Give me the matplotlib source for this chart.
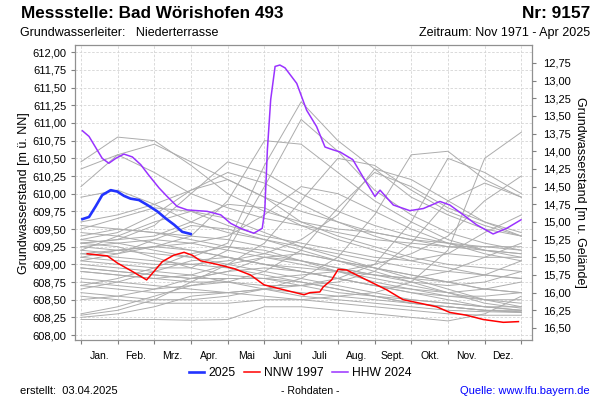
import matplotlib
matplotlib.use("Agg")
import matplotlib.pyplot as plt
from matplotlib.lines import Line2D
import numpy as np

plt.rcParams['font.family'] = ['Liberation Sans', 'DejaVu Sans']

# ---------------- data ----------------
months = ["Jan.", "Feb.", "Mrz.", "Apr.", "Mai", "Juni", "Juli", "Aug.", "Sept.", "Okt.", "Nov.", "Dez."]
ground_level = 624.60  # m ü. NN (for right axis: depth below ground)

# month positions (0 = 1 Jan, 12 = 31 Dec)
grid_m = list(range(13))

# historical years (gray), monthly values
gray_years = [
    [609.25, 609.20, 609.15, 609.10, 609.30, 610.40, 611.30, 610.75, 610.35, 609.95, 609.70, 609.50, 609.40],
    [609.05, 609.00, 608.95, 608.95, 609.20, 610.10, 611.05, 610.60, 610.05, 609.70, 609.45, 609.30, 609.20],
    [609.20, 609.15, 609.25, 609.40, 609.90, 610.75, 610.70, 610.30, 609.90, 609.60, 609.35, 609.20, 609.10],
    [610.45, 610.80, 610.75, 610.40, 610.00, 609.75, 609.60, 609.50, 609.45, 609.35, 609.25, 609.20, 609.15],
    [610.10, 610.55, 610.70, 610.45, 610.20, 609.95, 609.75, 609.60, 609.45, 609.35, 609.30, 609.25, 609.25],
    [610.35, 610.55, 610.30, 610.00, 609.80, 609.65, 609.55, 609.45, 609.35, 609.30, 609.25, 609.25, 609.20],
    [609.30, 609.35, 609.55, 610.00, 610.45, 610.30, 610.00, 609.75, 609.55, 609.40, 609.30, 609.20, 609.15],
    [608.90, 608.85, 608.80, 608.85, 609.00, 609.30, 609.90, 610.50, 610.40, 610.05, 609.75, 609.55, 609.40],
    [608.75, 608.70, 608.65, 608.70, 608.75, 608.90, 609.20, 609.80, 610.30, 610.10, 609.80, 609.60, 609.45],
    [608.60, 608.55, 608.50, 608.50, 608.55, 608.65, 608.80, 609.10, 609.70, 610.55, 610.60, 610.20, 609.95],
    [608.70, 608.65, 608.60, 608.60, 608.60, 608.65, 608.70, 608.80, 609.00, 609.60, 610.50, 610.30, 610.00],
    [608.55, 608.50, 608.45, 608.45, 608.45, 608.50, 608.50, 608.55, 608.60, 608.75, 609.20, 610.50, 610.87],
    [608.90, 608.85, 608.80, 608.75, 608.75, 608.70, 608.70, 608.75, 608.90, 609.30, 609.90, 610.15, 609.95],
    [609.10, 609.05, 609.00, 609.00, 609.05, 609.15, 609.35, 609.70, 610.35, 610.20, 609.90, 609.60, 609.40],
    [609.95, 610.05, 609.85, 609.60, 609.45, 609.35, 609.25, 609.15, 609.05, 608.95, 608.90, 608.85, 608.80],
    [609.55, 609.50, 609.45, 609.40, 609.35, 609.25, 609.15, 609.05, 608.95, 608.85, 608.75, 608.65, 608.60],
    [609.45, 609.40, 609.30, 609.20, 609.10, 609.00, 608.90, 608.80, 608.70, 608.60, 608.50, 608.40, 608.35],
    [609.35, 609.30, 609.20, 609.10, 609.00, 608.90, 608.80, 608.70, 608.60, 608.50, 608.45, 608.40, 608.35],
    [609.25, 609.30, 609.35, 609.30, 609.20, 609.10, 609.00, 608.90, 608.80, 608.70, 608.60, 608.50, 608.45],
    [609.15, 609.10, 609.05, 609.00, 608.95, 608.85, 608.75, 608.65, 608.55, 608.45, 608.40, 608.35, 608.32],
    [609.20, 609.40, 609.60, 609.75, 609.65, 609.45, 609.25, 609.10, 608.95, 608.80, 608.65, 608.50, 608.40],
    [609.05, 609.15, 609.35, 609.55, 609.50, 609.35, 609.20, 609.05, 608.90, 608.75, 608.60, 608.45, 608.38],
    [609.40, 609.50, 609.45, 609.35, 609.25, 609.15, 609.05, 608.95, 608.85, 608.80, 608.75, 608.85, 609.05],
    [609.30, 609.25, 609.10, 608.95, 608.85, 608.80, 608.70, 608.60, 608.55, 608.50, 608.45, 608.40, 608.40],
    [608.95, 608.90, 608.85, 608.80, 608.90, 609.10, 609.15, 609.05, 608.95, 608.85, 608.75, 608.65, 608.60],
    [608.70, 608.80, 608.95, 609.15, 609.25, 609.20, 609.05, 608.90, 608.75, 608.65, 608.55, 608.50, 608.50],
    [608.50, 608.55, 608.65, 608.80, 608.90, 608.95, 608.90, 608.80, 608.70, 608.60, 608.55, 608.55, 608.60],
    [608.30, 608.40, 608.55, 608.70, 608.80, 608.80, 608.75, 608.65, 608.55, 608.45, 608.40, 608.35, 608.35],
    [608.25, 608.30, 608.40, 608.55, 608.60, 608.65, 608.60, 608.55, 608.50, 608.45, 608.40, 608.35, 608.33],
    [608.22, 608.22, 608.22, 608.21, 608.22, 608.40, 608.40, 608.35, 608.30, 608.25, 608.20, 608.30, 608.55],
    [608.28, 608.35, 608.50, 608.75, 609.00, 609.10, 609.05, 608.95, 608.85, 608.75, 608.70, 608.75, 608.90],
    [608.65, 608.75, 608.90, 609.05, 609.10, 609.00, 608.90, 608.80, 608.70, 608.65, 608.60, 608.65, 608.75],
    [608.80, 608.75, 608.70, 608.65, 608.60, 608.55, 608.50, 608.45, 608.40, 608.35, 608.30, 608.28, 608.28],
    [609.00, 608.95, 608.90, 608.85, 608.75, 608.65, 608.55, 608.50, 608.45, 608.40, 608.35, 608.33, 608.32],
    [609.10, 609.20, 609.25, 609.20, 609.10, 609.00, 608.95, 608.90, 608.85, 608.80, 608.90, 609.10, 609.30],
    [609.30, 609.35, 609.40, 609.60, 609.85, 609.80, 609.55, 609.35, 609.20, 609.05, 608.95, 608.85, 608.80],
    [609.50, 609.65, 609.80, 609.75, 609.55, 609.40, 609.30, 609.20, 609.10, 609.05, 609.15, 609.45, 609.70],
    [609.60, 609.70, 609.85, 610.05, 610.20, 609.95, 609.60, 609.40, 609.25, 609.10, 609.00, 608.95, 608.90],
    [609.35, 609.45, 609.70, 610.05, 610.30, 610.15, 609.85, 609.60, 609.40, 609.25, 609.15, 609.10, 609.10],
    [609.15, 609.20, 609.25, 609.30, 609.40, 609.70, 610.10, 610.00, 609.75, 609.50, 609.30, 609.15, 609.05],
    [608.95, 608.90, 608.85, 608.80, 608.80, 608.80, 608.85, 608.90, 609.00, 609.15, 609.40, 609.90, 610.25],
]

# 2025 (blue)
y2025_m = [0.04, 0.22, 0.40, 0.58, 0.81, 0.99, 1.17, 1.35, 1.58, 1.81, 2.08, 2.31, 2.54, 2.76, 2.99]
y2025_v = [609.64, 609.67, 609.82, 609.98, 610.05, 610.03, 609.97, 609.93, 609.91, 609.84, 609.75, 609.65, 609.56, 609.46, 609.43]

# NNW 1997 (red)
nnw_m = [0.17, 0.72, 0.99, 1.40, 1.79, 1.99, 2.22, 2.53, 2.81, 3.03, 3.26, 3.71, 4.17, 4.62, 4.99, 5.53,
         6.08, 6.24, 6.51, 6.60, 6.83, 7.01, 7.24, 7.78, 8.33, 8.78, 9.24, 9.69, 10.05, 10.51, 10.96, 11.51, 11.92]
nnw_v = [609.15, 609.12, 609.02, 608.90, 608.78, 608.90, 609.04, 609.13, 609.17, 609.13, 609.05, 609.00, 608.94, 608.85, 608.71, 608.64,
         608.57, 608.60, 608.61, 608.68, 608.78, 608.93, 608.92, 608.78, 608.64, 608.50, 608.45, 608.40, 608.32, 608.28, 608.22, 608.18, 608.19]

# HHW 2024 (purple)
hhw_m = [0.04, 0.22, 0.44, 0.58, 0.76, 0.95, 1.17, 1.40, 1.63, 1.85, 2.13, 2.35, 2.62, 2.90, 3.44, 3.81, 4.08, 4.35, 4.71, 4.94,
         5.01, 5.08, 5.17, 5.29, 5.42, 5.56, 5.88, 6.15, 6.42, 6.65, 6.87, 7.06, 7.41, 7.68, 8.01, 8.15, 8.51, 8.96, 9.33,
         9.78, 10.05, 10.42, 10.78, 11.23, 11.60, 11.99]
hhw_v = [610.89, 610.81, 610.62, 610.50, 610.43, 610.50, 610.56, 610.52, 610.41, 610.26, 610.08, 609.96, 609.82, 609.77, 609.75, 609.70, 609.58, 609.51, 609.44, 609.51,
         609.77, 610.62, 611.33, 611.80, 611.82, 611.78, 611.56, 611.18, 610.95, 610.66, 610.62, 610.59, 610.48, 610.24, 609.96, 610.05, 609.84, 609.76, 609.79,
         609.89, 609.84, 609.70, 609.56, 609.43, 609.51, 609.63]

# ---------------- figure ----------------
W, H = 600, 400
fig = plt.figure(figsize=(6, 4), dpi=100)
ax = fig.add_axes([74.7 / W, 1 - 340 / H, (532 - 74.7) / W, (340 - 45.3) / H])

ylo, yhi = 607.93, 612.099
ax.set_xlim(-0.17, 12.29)
ax.set_ylim(ylo, yhi)

for g in gray_years:
    ax.plot(grid_m, g, color='#acacac', lw=0.7, zorder=2)
ax.plot(nnw_m, nnw_v, color='#ff0000', lw=1.1, zorder=4)
ax.plot(hhw_m, hhw_v, color='#9a32ff', lw=1.1, zorder=4)
ax.plot(y2025_m, y2025_v, color='#2233ff', lw=1.9, zorder=5)

# grid / ticks
yt = np.arange(608.0, 612.01, 0.25)
ax.set_yticks(yt)
ax.set_yticklabels([f"{v:.2f}".replace('.', ',') for v in yt], fontsize=8)
ax.set_xticks(range(13))
ax.set_xticklabels([])
ax.set_xticks([i + 0.5 for i in range(12)], minor=True)
ax.set_xticklabels(months, minor=True, fontsize=7.5)
ax.tick_params(axis='x', which='minor', length=0, pad=8)
ax.tick_params(axis='x', which='major', length=3, color='#808080')
ax.tick_params(axis='y', length=3, color='#808080', pad=3)
ax.grid(True, which='major', color='#d4d4d4', lw=0.6, ls=(0, (3, 2)))
ax.set_axisbelow(True)
for s in ax.spines.values():
    s.set_color('#909090')
    s.set_linewidth(0.9)
ax.set_ylabel("Grundwasserstand [m ü. NN]", fontsize=9, labelpad=2)

ax2 = ax.twinx()
ax2.set_ylim(ground_level - ylo, ground_level - yhi)
rt = np.arange(12.75, 16.51, 0.25)
ax2.set_yticks(rt)
ax2.set_yticklabels([f"{v:.2f}".replace('.', ',') for v in rt], fontsize=8)
ax2.tick_params(axis='y', length=3, color='#808080', pad=5)
for s in ax2.spines.values():
    s.set_visible(False)
ax2.set_ylabel("Grundwasserstand [m u. Gelände]", fontsize=9, rotation=-90, labelpad=11)

# texts
fig.text(21 / W, 1 - 14 / H, "Messstelle: Bad Wörishofen 493", fontsize=12.3, fontweight='bold', ha='left', va='center')
fig.text(590 / W, 1 - 14 / H, "Nr: 9157", fontsize=12.4, fontweight='bold', ha='right', va='center')
fig.text(20 / W, 1 - 33 / H, "Grundwasserleiter:   Niederterrasse", fontsize=9, ha='left', va='center')
fig.text(590 / W, 1 - 33 / H, "Zeitraum: Nov 1971 - Apr 2025", fontsize=9, ha='right', va='center')
fig.text(20 / W, 1 - 391 / H, "erstellt:  03.04.2025", fontsize=8, ha='left', va='center')
fig.text(310 / W, 1 - 391 / H, "- Rohdaten -", fontsize=7.6, ha='center', va='center')
fig.text(590 / W, 1 - 391 / H, "Quelle: www.lfu.bayern.de", fontsize=8, ha='right', va='center', color='#0000ff')

handles = [Line2D([], [], color='#2233ff', lw=1.9),
           Line2D([], [], color='#ff0000', lw=1.1),
           Line2D([], [], color='#9a32ff', lw=1.1)]
fig.legend(handles, ["2025", "NNW 1997", "HHW 2024"], loc='center', bbox_to_anchor=(300 / W, 1 - 373 / H),
           ncol=3, frameon=False, fontsize=8.7, handlelength=1.3, handletextpad=0.35, columnspacing=0.7)

fig.savefig("out.png", dpi=100)
